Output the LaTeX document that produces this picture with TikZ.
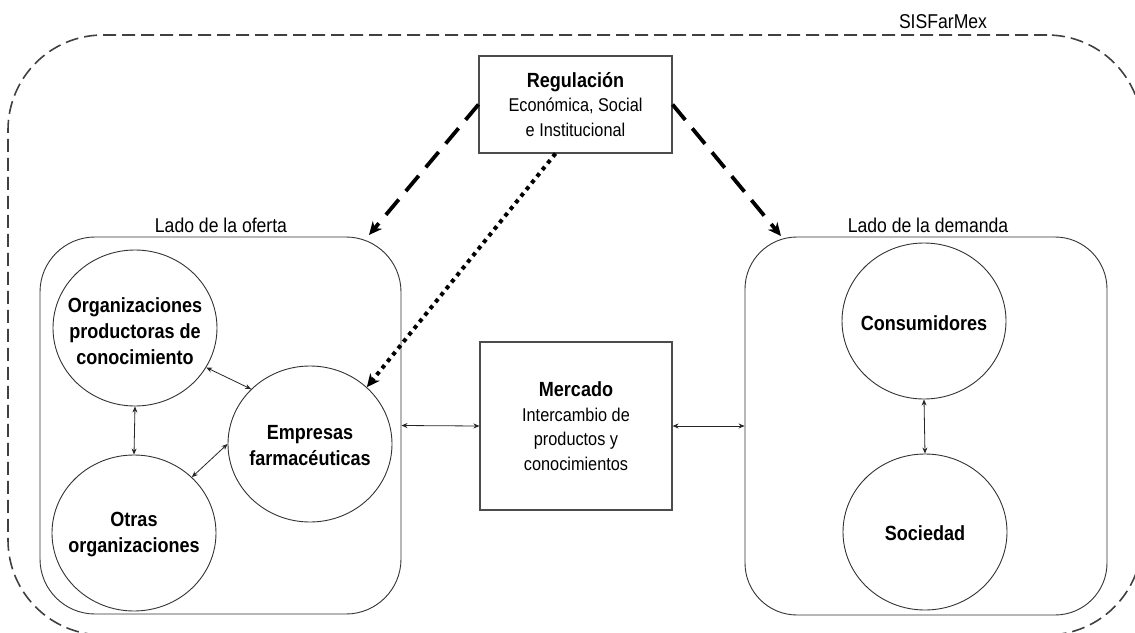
\documentclass[tikz,border=0pt]{standalone}
\usepackage{fontspec}
\setmainfont[FakeStretch=0.88]{Liberation Sans}
\usetikzlibrary{arrows.meta,shapes.geometric}
\begin{document}
\begin{tikzpicture}[x=1pt,y=-1pt,
  circ/.style={draw=black!80, line width=0.9pt, ellipse, minimum width=164pt, minimum height=156pt, inner sep=0pt},
  ctext/.style={inner sep=0pt, align=center, font=\fontsize{20.5}{26}\selectfont\bfseries},
  group/.style={draw=black!80, line width=0.9pt, rectangle, inner sep=0pt},
  boxn/.style={draw=black!70, line width=1.1pt, rectangle, inner sep=0pt, align=center, font=\fontsize{18.5}{24.5}\selectfont},
  lbl/.style={font=\fontsize{20}{22}\selectfont, anchor=base, inner sep=0pt},
  small/.style={{Stealth[length=6pt,width=5pt]}-{Stealth[length=6pt,width=5pt]}, line width=0.8pt, draw=black!85},
  regarrow/.style={line width=3.8pt, dash pattern=on 20pt off 11pt, -{Stealth[length=13pt,width=12pt,inset=4pt]}},
  dotarrow/.style={line width=4pt, dash pattern=on 4pt off 4.5pt, -{Stealth[length=13pt,width=12pt,inset=4pt]}},
]
\useasboundingbox (0,0) rectangle (1135,632);
\begin{scope}
\clip (0,0) rectangle (1135,632);
\node[draw=black!75, line width=1.6pt, dash pattern=on 13pt off 6pt, rounded corners=95pt, minimum width=1134pt, minimum height=600pt, inner sep=0pt] (sis) at (575,335) {};
\end{scope}
\node[lbl] (sislbl) at (943,28) {SISFarMex};

\node[group, rounded corners=55pt, minimum width=361pt, minimum height=377pt] (oferta) at (220.5,425.5) {};
\node[group, rounded corners=52pt, minimum width=362pt, minimum height=378pt] (demanda) at (926,426) {};
\node[lbl] (lof) at (221,232) {Lado de la oferta};
\node[lbl] (lde) at (928,232) {Lado de la demanda};

\node[circ] (org) at (135,328) {};
\node[ctext] (orgt) at (135,331) {Organizaciones\\productoras de\\conocimiento};
\node[circ] (emp) at (310,444) {};
\node[ctext] (empt) at (310,446) {Empresas\\farmacéuticas};
\node[circ] (otras) at (134,533) {};
\node[ctext] (otrast) at (134,535) {Otras\\organizaciones};
\node[circ] (cons) at (924,321) {};
\node[ctext] (const) at (924,323) {Consumidores};
\node[circ] (soc) at (925,532) {};
\node[ctext] (soct) at (925,533) {Sociedad};

\node[boxn, minimum width=193pt, minimum height=97pt] (reg) at (575.5,104.5) {{\fontsize{20.5}{24.5}\selectfont\bfseries Regulación}\\Económica, Social\\e Institucional};
\node[boxn, minimum width=192pt, minimum height=168pt] (mer) at (576,426) {{\fontsize{20.5}{24.5}\selectfont\bfseries Mercado}\\Intercambio de\\productos y\\conocimientos};

\coordinate (tipL) at (369,235);
\coordinate (tipR) at (781,236);
\draw[regarrow] (reg.west) -- (tipL);
\draw[regarrow] (reg.east) -- (tipR);
\draw[dotarrow] ([xshift=-20pt]reg.south) -- (emp.45);

\draw[small] (org.-29) -- (emp.137);
\draw[small] (otras.44) -- (emp.180);
\draw[small] (org.south) -- (otras.north);
\draw[small] (cons.south) -- (soc.north);
\draw[small] (oferta.east) -- (mer.west);
\draw[small] (mer.east) -- (demanda.west);
\end{tikzpicture}
\end{document}
